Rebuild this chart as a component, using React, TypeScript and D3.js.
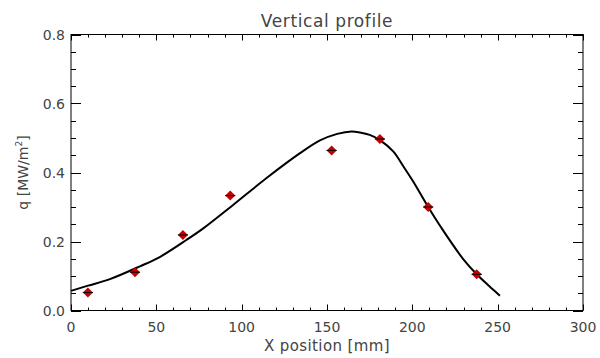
import React from "react";
import * as d3 from "d3";

const pointX = [9.9, 37.5, 65.6, 93.3, 152.7, 181, 209.3, 237.7];
const pointY = [0.052, 0.111, 0.219, 0.333, 0.464, 0.497, 0.3, 0.105];
const pointXErr = [3, 3, 3, 3, 3, 3, 3, 3];

const curveX = [0, 10, 22.8, 40.4, 52, 67.8, 77.5, 95, 114.6, 134.2, 145.9, 156, 164.4, 169.3, 175, 181, 188.8, 194.7, 200.5, 209.3, 217.1, 229.8, 237.7, 245, 251.3];
const curveY = [0.057, 0.072, 0.091, 0.128, 0.155, 0.205, 0.238, 0.306, 0.384, 0.456, 0.493, 0.512, 0.519, 0.516, 0.509, 0.494, 0.461, 0.418, 0.374, 0.3, 0.239, 0.149, 0.105, 0.071, 0.043];

const xMajor = [0, 50, 100, 150, 200, 250, 300];
const xMinor = d3.range(0, 301, 10);
const yMajor = [0, 0.2, 0.4, 0.6, 0.8];
const yMinor = d3.range(0, 0.801, 0.05);

const W = 600, H = 358;
const L = 71, R = 583, T = 34.5, B = 310.5;
const FONT = "'DejaVu Sans', sans-serif";
const TXT = "#444";

export default function App() {
  const x = d3.scaleLinear().domain([0, 300]).range([L, R]);
  const y = d3.scaleLinear().domain([0, 0.8]).range([B, T]);
  const line = d3
    .line<number>()
    .x((_, i) => x(curveX[i]))
    .y((d) => y(d))
    .curve(d3.curveCatmullRom.alpha(0.5));
  const sq = d3.symbol().type(d3.symbolSquare).size(50)();

  return (
    <svg width={W} height={H} style={{ position: "absolute", left: 0, top: 0 }}>
      <rect width={W} height={H} fill="#fff" />
      <rect x={L} y={T} width={R - L} height={B - T} fill="none" stroke="#000" strokeWidth={1} />
      {xMinor.map((v, i) => {
        const major = xMajor.includes(Math.round(v));
        const len = major ? 6 : 3;
        const px = Math.round(x(v)) + 0.5;
        return (
          <g key={"xt" + i}>
            <line x1={px} x2={px} y1={B} y2={B - len} stroke="#000" />
            <line x1={px} x2={px} y1={T} y2={T + len} stroke="#000" />
          </g>
        );
      })}
      {yMinor.map((v, i) => {
        const major = i % 4 === 0;
        const len = major ? 10 : 5;
        const py = Math.round(y(v)) + 0.5;
        return (
          <g key={"yt" + i}>
            <line x1={L} x2={L + len} y1={py} y2={py} stroke="#000" />
            <line x1={R} x2={R - len} y1={py} y2={py} stroke="#000" />
          </g>
        );
      })}
      {xMajor.map((v) => (
        <text key={"xl" + v} x={x(v)} y={332} textAnchor="middle" fontFamily={FONT} fontSize={14} fill={TXT}>
          {v}
        </text>
      ))}
      {yMajor.map((v) => (
        <text key={"yl" + v} x={65} y={y(v) + 5} textAnchor="end" fontFamily={FONT} fontSize={14} fill={TXT}>
          {v.toFixed(1)}
        </text>
      ))}
      <text x={(L + R) / 2} y={27} textAnchor="middle" fontFamily={FONT} fontSize={17} fill={TXT} letterSpacing={0.6}>
        Vertical profile
      </text>
      <text x={(L + R) / 2} y={351} textAnchor="middle" fontFamily={FONT} fontSize={15} fill={TXT} letterSpacing={0.4}>
        X position [mm]
      </text>
      <text transform={`translate(28,${(T + B) / 2}) rotate(-90)`} textAnchor="middle" fontFamily={FONT} fontSize={14} fill={TXT}>
        q [MW/m<tspan dy={-6} fontSize={9}>2</tspan><tspan dy={6}>]</tspan>
      </text>
      <path d={line(curveY) || ""} fill="none" stroke="#000" strokeWidth={2} />
      {pointX.map((px, i) => (
        <g key={"p" + i}>
          <path d={sq || ""} transform={`translate(${x(px)},${y(pointY[i])}) rotate(45)`} fill="#c40000" />
          <line
            x1={x(px - pointXErr[i])}
            x2={x(px + pointXErr[i])}
            y1={y(pointY[i])}
            y2={y(pointY[i])}
            stroke="#000"
            strokeWidth={1}
          />
        </g>
      ))}
    </svg>
  );
}
